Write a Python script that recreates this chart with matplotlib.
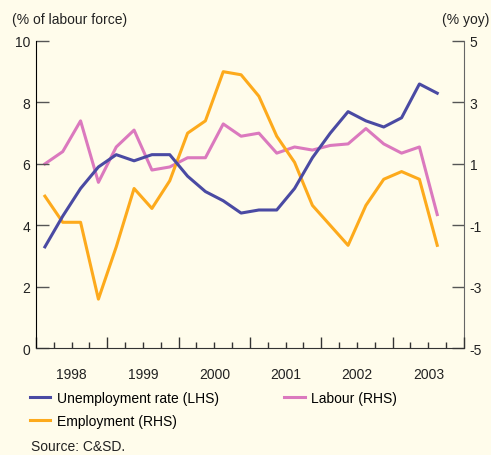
import matplotlib
matplotlib.use("Agg")
import matplotlib.pyplot as plt
import matplotlib.transforms as mtransforms

plt.rcParams['font.family'] = ['Liberation Sans', 'DejaVu Sans']
plt.rcParams['axes.unicode_minus'] = False

# quarterly observations, 1998Q1 .. 2003Q3
quarters = [f"{y}Q{q}" for y in range(1998, 2004) for q in range(1, 5)][:23]
unemployment = [3.3, 4.3, 5.2, 5.9, 6.3, 6.1, 6.3, 6.3, 5.6, 5.1, 4.8, 4.4,
                4.5, 4.5, 5.2, 6.2, 7.0, 7.7, 7.4, 7.2, 7.5, 8.6, 8.3]
labour = [1.0, 1.4, 2.4, 0.4, 1.55, 2.1, 0.8, 0.9, 1.2, 1.2, 2.3, 1.9,
          2.0, 1.35, 1.55, 1.45, 1.6, 1.65, 2.15, 1.65, 1.35, 1.55, -0.65]
employment = [-0.05, -0.9, -0.9, -3.4, -1.7, 0.2, -0.45, 0.45, 2.0, 2.4, 4.0, 3.9,
              3.2, 1.9, 1.05, -0.35, -1.0, -1.65, -0.35, 0.5, 0.75, 0.5, -1.65]
years = [1998, 1999, 2000, 2001, 2002, 2003]

BG = "#FFFCEB"
BLUE = "#4A4AA3"
PINK = "#DB79BE"
ORANGE = "#FDAA1C"


def to_x(label):
    y, q = label.split("Q")
    return int(y) + (int(q) - 0.5) / 4


x = [to_x(q) for q in quarters]

fig = plt.figure(figsize=(4.91, 4.56), dpi=100, facecolor=BG)
ax = fig.add_axes([0.0733, 0.234, 0.8717, 0.674], facecolor=BG)
ax2 = ax.twinx()

l1, = ax.plot(x, unemployment, color=BLUE, lw=2.2, label="Unemployment rate (LHS)")
l2, = ax2.plot(x, labour, color=PINK, lw=2.2, label="Labour (RHS)")
l3, = ax2.plot(x, employment, color=ORANGE, lw=2.2, label="Employment (RHS)")
ax.set_zorder(ax2.get_zorder() + 1)
ax.patch.set_visible(False)

ax.set_xlim(1998, 2004)
ax.set_ylim(0, 10)
ax2.set_ylim(-5, 5)
ax.set_yticks(range(0, 11, 2))
ax2.set_yticks(range(-5, 6, 2))

ax.set_xticks(range(1998, 2005))
ax.set_xticks([1998 + i / 4 for i in range(25)], minor=True)
ax.set_xticklabels([])
ax.tick_params(axis="x", which="major", direction="in", length=8, width=1, color="#333333")
ax.tick_params(axis="x", which="minor", direction="in", length=4, width=1, color="#333333")
ax.tick_params(axis="y", direction="in", length=9, width=1, color="#555555",
               labelsize=10, labelcolor="#222222", pad=4)
ax2.tick_params(axis="y", direction="in", length=9, width=1, color="#555555",
                labelsize=10, labelcolor="#222222", pad=4)

trans = mtransforms.blended_transform_factory(ax.transData, ax.transAxes)
for yr in years:
    ax.text(yr + 0.5, -0.06, str(yr), transform=trans, ha="center", va="top",
            fontsize=10, color="#222222")

for a in (ax, ax2):
    a.spines["top"].set_visible(False)
ax.spines["left"].set_color("black")
ax.spines["right"].set_visible(False)
ax2.spines["left"].set_visible(False)
ax2.spines["right"].set_color("#666666")
ax.spines["bottom"].set_color("#333333")
ax2.spines["bottom"].set_visible(False)

fig.text(12 / 491, 1 - 20 / 456, "(% of labour force)", ha="left", va="center",
         fontsize=10, color="#222222")
fig.text(489 / 491, 1 - 20 / 456, "(% yoy)", ha="right", va="center",
         fontsize=10, color="#222222")

fig.legend(handles=[l1, l3, l2], loc="upper left", ncol=2,
           bbox_to_anchor=(24 / 491, 1 - 386 / 456), frameon=False,
           fontsize=10, handlelength=1.5, handletextpad=0.45,
           columnspacing=4.7, labelspacing=0.65, borderaxespad=0)

fig.text(31 / 491, 1 - 447 / 456, "Source: C&SD.", ha="left", va="center",
         fontsize=10, color="#222222")

fig.savefig("out.png", dpi=100, facecolor=BG)
